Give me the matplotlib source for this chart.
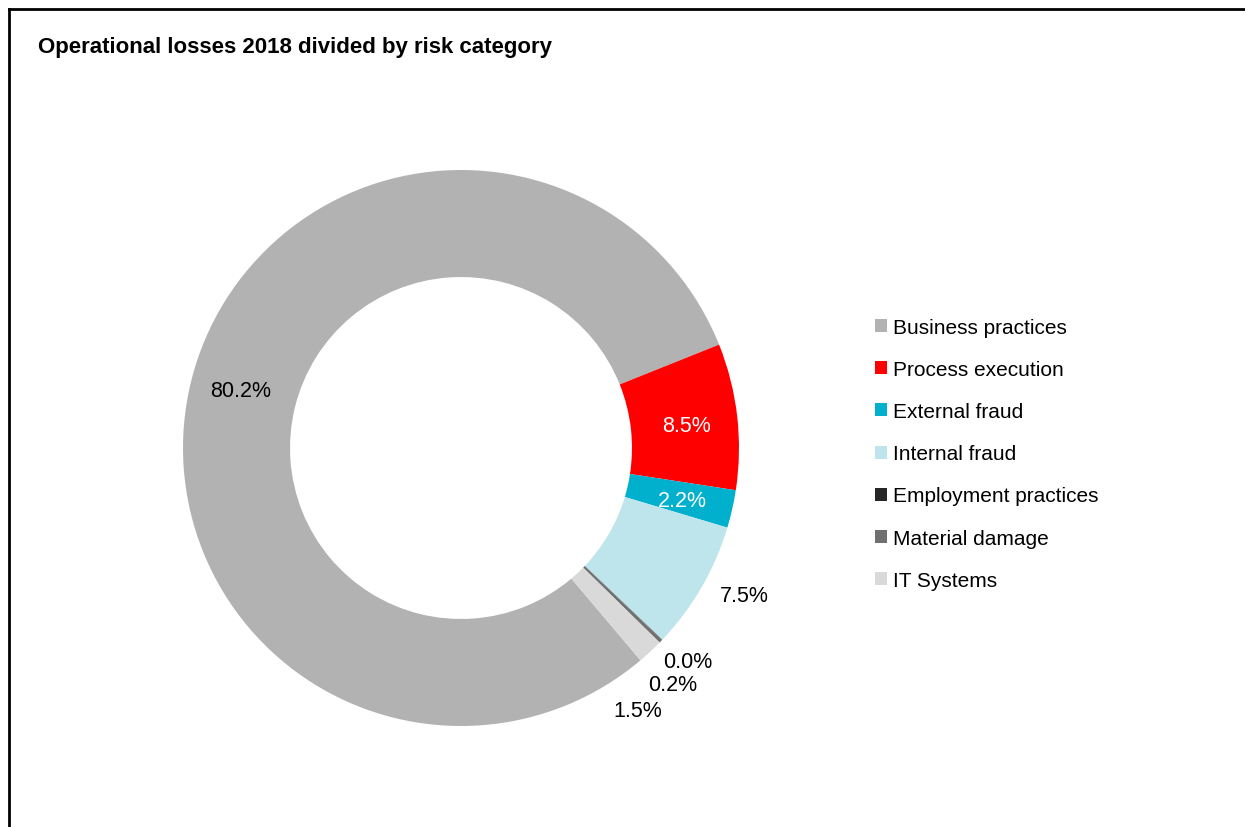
import numpy as np
import matplotlib
matplotlib.use('Agg')
import matplotlib.pyplot as plt
from matplotlib.lines import Line2D

plt.rcParams['font.family'] = ['Liberation Sans Narrow', 'Liberation Sans', 'DejaVu Sans']

categories = ['Business practices', 'Process execution', 'External fraud', 'Internal fraud',
              'Employment practices', 'Material damage', 'IT Systems']
shares = [80.2, 8.5, 2.2, 7.5, 0.02, 0.2, 1.5]
pct_labels = ['80.2%', '8.5%', '2.2%', '7.5%', '0.0%', '0.2%', '1.5%']
colors = ['#b2b2b2', '#ff0000', '#00b0cc', '#bee4ec', '#262626', '#707070', '#d9d9d9']
label_colors = ['black', 'white', 'white', 'black', 'black', 'black', 'black']
# label placement (angle in degrees, radius) - layout only
label_pos = [(165.5, 0.82), (5.8, 0.817), (-13.4, 0.82), (-27.5, 1.15),
             (-43.2, 1.12), (-48.2, 1.14), (-56.0, 1.14)]

W, H = 1245, 828
fig = plt.figure(figsize=(W / 100, H / 100), dpi=100)

cx, cy, r = 461, 449, 278
ax = fig.add_axes([(cx - r) / W, (H - cy - r) / H, 2 * r / W, 2 * r / H])
wedges, _ = ax.pie(shares, colors=colors, startangle=310.2, counterclock=False,
                   radius=1, wedgeprops=dict(width=0.385, linewidth=0))
ax.set_xlim(-1, 1)
ax.set_ylim(-1, 1)
ax.set_aspect('equal')
ax.axis('off')

for txt, col, (ang, rad) in zip(pct_labels, label_colors, label_pos):
    a = np.deg2rad(ang)
    ax.text(rad * np.cos(a), rad * np.sin(a), txt, color=col, fontsize=15.5,
            ha='center', va='center', clip_on=False)

fig.text(38 / W, 1 - 47 / H, 'Operational losses 2018 divided by risk category',
         fontsize=16, fontweight='bold', ha='left', va='center')

fig.legend(wedges, categories, loc='upper left', bbox_to_anchor=(875 / W, 1 - 319 / H),
           frameon=False, fontsize=15, handlelength=0.58, handleheight=0.58,
           handletextpad=0.3, labelspacing=1.11, borderpad=0, borderaxespad=0)

# frame lines (top and left)
fig.add_artist(Line2D([9 / W, 1], [1 - 10 / H, 1 - 10 / H], color='black', lw=2,
                      transform=fig.transFigure))
fig.add_artist(Line2D([9 / W, 9 / W], [0, 1 - 10 / H], color='black', lw=2,
                      transform=fig.transFigure))

fig.savefig('out.png', dpi=100)
